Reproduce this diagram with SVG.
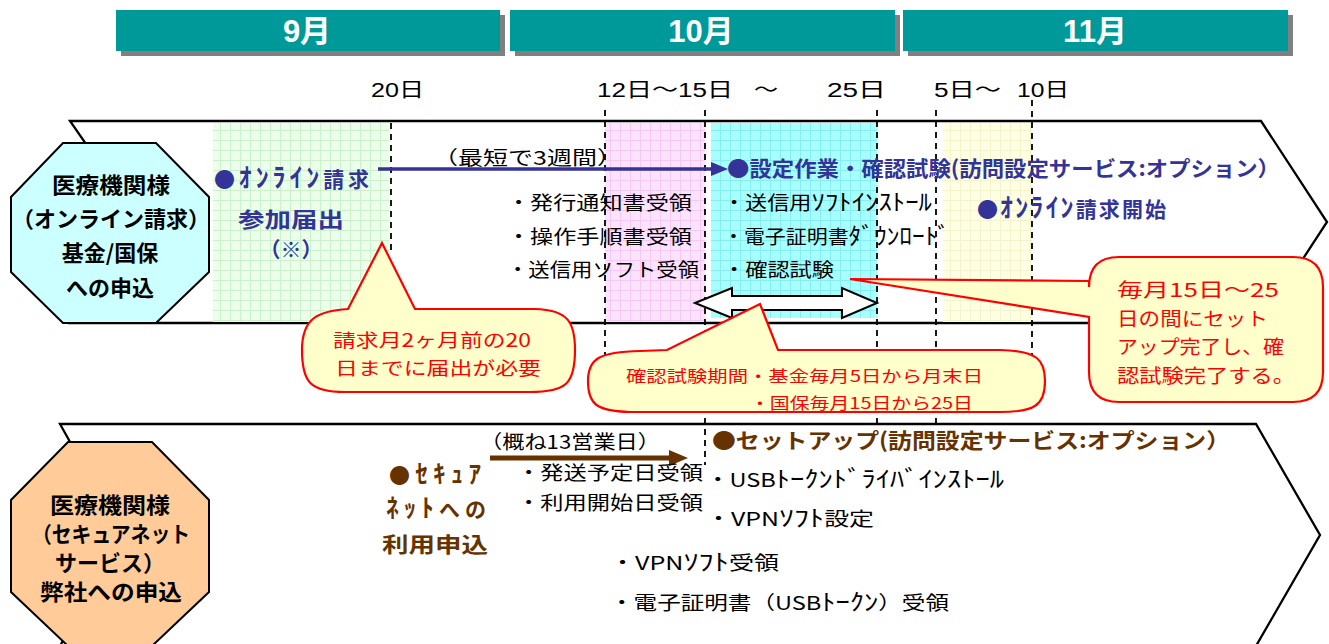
<svg xmlns="http://www.w3.org/2000/svg" width="1329" height="644" viewBox="0 0 1329 644">
<style>
text{font-family:'Noto Sans CJK JP','Liberation Sans',sans-serif;}
.hd{font-family:'Liberation Sans','Noto Sans CJK JP',sans-serif;font-size:31px;font-weight:bold;fill:#fff;text-anchor:middle;}
.dt{font-family:'Liberation Sans','Noto Sans CJK JP',sans-serif;font-size:20px;fill:#000;}
.blk{font-size:19px;fill:#000;}
.blue{font-size:21px;font-weight:bold;fill:#333399;}
.brown{font-size:21px;font-weight:bold;fill:#663300;}
.red{fill:#FF0000;}
.oct{font-size:22px;font-weight:bold;fill:#000;text-anchor:middle;}
.chev{fill:#fff;stroke:#000;stroke-width:2.3;}
.dash{stroke:#000;stroke-width:1.8;stroke-dasharray:6 5;fill:none;}
.call{fill:#FFFFCC;stroke:#FF0000;stroke-width:2.2;stroke-linejoin:miter;}
.k26{font-size:26px;}
.k25{font-size:25px;}
.k23{font-size:23px;}
</style>
<defs>
<pattern id="pGreen" width="10" height="10" patternUnits="userSpaceOnUse">
<rect width="10" height="10" fill="#EBFFEB"/><path d="M0 0.5H10M0.5 0V10" stroke="#CCF2CC" stroke-width="1"/>
</pattern>
<pattern id="pPink" width="10" height="10" patternUnits="userSpaceOnUse">
<rect width="10" height="10" fill="#FCE3FC"/><path d="M0 0.5H10M0.5 0V10" stroke="#F5C8F5" stroke-width="1"/>
</pattern>
<pattern id="pCyan" width="10" height="10" patternUnits="userSpaceOnUse">
<rect width="10" height="10" fill="#A8FFFF"/><path d="M0 0.5H10M0.5 0V10" stroke="#86EEEE" stroke-width="1"/>
</pattern>
<pattern id="pYellow" width="10" height="10" patternUnits="userSpaceOnUse">
<rect width="10" height="10" fill="#FFFFE3"/><path d="M0 0.5H10M0.5 0V10" stroke="#F4F4CC" stroke-width="1"/>
</pattern>
</defs>
<rect width="1329" height="644" fill="#fff"/>

<g id="months">
<rect x="121" y="15" width="384" height="41" fill="#808080"/>
<rect x="116" y="10" width="384" height="41" fill="#009999"/>
<text class="hd" x="307" y="42">9月</text>
<rect x="515" y="15" width="385" height="41" fill="#808080"/>
<rect x="510" y="10" width="385" height="41" fill="#009999"/>
<text class="hd" x="701" y="42">10月</text>
<rect x="908" y="15" width="385" height="41" fill="#808080"/>
<rect x="903" y="10" width="385" height="41" fill="#009999"/>
<text class="hd" x="1095" y="42">11月</text>
</g>

<g id="dates">
<text class="dt" x="371" y="97" textLength="53" lengthAdjust="spacingAndGlyphs">20日</text>
<text class="dt" x="597" y="97" textLength="136" lengthAdjust="spacingAndGlyphs">12日～15日</text>
<text class="dt" x="754" y="97" textLength="24" lengthAdjust="spacingAndGlyphs">～</text>
<text class="dt" x="827" y="97" textLength="59" lengthAdjust="spacingAndGlyphs">25日</text>
<text class="dt" x="934" y="97" textLength="67" lengthAdjust="spacingAndGlyphs">5日～</text>
<text class="dt" x="1017" y="97" textLength="52" lengthAdjust="spacingAndGlyphs">10日</text>
</g>

<g id="lane-online">
<path class="chev" d="M70,121 L1261,121 L1327,222 L1261,323 L70,323 L140,222 Z"/>
<rect x="213" y="123" width="176" height="199" fill="url(#pGreen)"/>
<rect x="605" y="123" width="100" height="199" fill="url(#pPink)"/>
<rect x="711" y="123" width="166" height="195" fill="url(#pCyan)"/>
<rect x="943" y="123" width="89" height="199" fill="url(#pYellow)"/>
</g>

<g id="lane-secure">
<path class="chev" d="M60,424 L1256,424 L1320,535 L1256,646 L60,646 L122,535 Z"/>
</g>

<g id="connectors">
<line class="dash" x1="391" y1="123" x2="391" y2="250"/>
<line class="dash" x1="605" y1="110" x2="605" y2="355"/>
<line class="dash" x1="705" y1="110" x2="705" y2="465"/>
<line class="dash" x1="877" y1="110" x2="877" y2="424"/>
<line class="dash" x1="936" y1="110" x2="936" y2="424"/>
<line class="dash" x1="1032" y1="100" x2="1032" y2="355"/>
<line x1="378" y1="169" x2="714" y2="169" stroke="#333399" stroke-width="3.5"/>
<polygon points="711,162 728,169 711,176" fill="#333399"/>
<line x1="490" y1="458" x2="672" y2="458" stroke="#663300" stroke-width="5"/>
<polygon points="669,450 688,458 669,466" fill="#663300"/>
<path d="M695,303 L732,288 L732,296 L842,296 L842,288 L877,303 L842,318 L842,310 L732,310 L732,318 Z" fill="#fff" stroke="#000" stroke-width="2"/>
</g>

<g id="node-online">
<polygon points="63,143 156,143 209,197 209,272 156,323 63,323 11,272 11,197" fill="#CCFFFF" stroke="#000" stroke-width="2"/>
<text class="oct" x="111" y="193" textLength="118" lengthAdjust="spacingAndGlyphs">医療機関様</text>
<text class="oct" x="111" y="227">（オンライン請求）</text>
<text class="oct" x="110" y="261">基金/国保</text>
<text class="oct" x="110" y="296">への申込</text>
</g>

<g id="node-secure">
<polygon points="68,442 152,442 209,500 209,592 152,646 68,646 11,592 11,500" fill="#FFCC99" stroke="#000" stroke-width="2"/>
<text class="oct" x="110" y="513" font-size="20" textLength="120" lengthAdjust="spacingAndGlyphs">医療機関様</text>
<text class="oct" x="111" y="542" font-size="20" textLength="158" lengthAdjust="spacingAndGlyphs">（セキュアネット</text>
<text class="oct" x="110" y="571" font-size="20" textLength="110" lengthAdjust="spacingAndGlyphs">サービス）</text>
<text class="oct" x="111" y="600" font-size="20" textLength="142" lengthAdjust="spacingAndGlyphs">弊社への申込</text>
</g>

<g id="node-apply">
<text class="blue" x="214" y="187" font-size="24" textLength="155">●<tspan class="k26">ｵﾝﾗｲﾝ</tspan>請求</text>
<text class="blue" x="238" y="227" font-size="24" textLength="106" lengthAdjust="spacingAndGlyphs">参加届出</text>
<text class="blue" x="291" y="257" font-size="23" text-anchor="middle">（※）</text>
</g>

<g id="node-receive">
<text class="blk" x="433" y="165" textLength="189" lengthAdjust="spacingAndGlyphs">（最短で3週間）</text>
<text class="blk" x="507" y="210" font-size="20" textLength="185" lengthAdjust="spacingAndGlyphs">・発行通知書受領</text>
<text class="blk" x="507" y="244" font-size="20" textLength="185" lengthAdjust="spacingAndGlyphs">・操作手順書受領</text>
<text class="blk" x="507" y="277" font-size="20" textLength="192" lengthAdjust="spacingAndGlyphs">・送信用ソフト受領</text>
</g>

<g id="node-setup">
<text class="blue" x="727" y="176" textLength="553" lengthAdjust="spacingAndGlyphs">●設定作業・確認試験(訪問設定サービス:オプション）</text>
<text class="blk" x="723" y="210" font-size="20" textLength="209" lengthAdjust="spacingAndGlyphs">・送信用<tspan class="k23">ｿﾌﾄｲﾝｽﾄｰﾙ</tspan></text>
<text class="blk" x="723" y="244" font-size="20" textLength="227" lengthAdjust="spacingAndGlyphs">・電子証明書<tspan class="k23">ﾀﾞｳﾝﾛｰﾄﾞ</tspan></text>
<text class="blk" x="723" y="277" font-size="20" textLength="111" lengthAdjust="spacingAndGlyphs">・確認試験</text>
</g>

<g id="node-start">
<text class="blue" x="977" y="217" font-size="22" textLength="189">●<tspan class="k26">ｵﾝﾗｲﾝ</tspan>請求開始</text>
</g>

<g id="node-secure-apply">
<text class="blk" x="480" y="449" font-size="18" textLength="180" lengthAdjust="spacingAndGlyphs">（概ね13営業日）</text>
<text class="brown" x="389" y="483" font-size="23" textLength="92">●<tspan class="k25">ｾｷｭｱ</tspan></text>
<text class="brown" x="386" y="517" font-size="23" textLength="100"><tspan class="k25">ﾈｯﾄ</tspan>への</text>
<text class="brown" x="382" y="552" font-size="24" textLength="106" lengthAdjust="spacingAndGlyphs">利用申込</text>
<text class="blk" x="517" y="480" font-size="20" textLength="186" lengthAdjust="spacingAndGlyphs">・発送予定日受領</text>
<text class="blk" x="517" y="510" font-size="20" textLength="186" lengthAdjust="spacingAndGlyphs">・利用開始日受領</text>
</g>

<g id="node-secure-setup">
<text class="brown" x="712" y="448" font-size="22" textLength="518" lengthAdjust="spacingAndGlyphs">●セットアップ(訪問設定サービス:オプション）</text>
<text class="blk" x="706" y="487" font-size="21" textLength="298" lengthAdjust="spacingAndGlyphs">・USB<tspan class="k23">ﾄｰｸﾝﾄﾞﾗｲﾊﾞｲﾝｽﾄｰﾙ</tspan></text>
<text class="blk" x="706" y="526" font-size="21" textLength="168" lengthAdjust="spacingAndGlyphs">・VPN<tspan class="k23">ｿﾌﾄ</tspan>設定</text>
<text class="blk" x="610" y="570" font-size="21" textLength="169" lengthAdjust="spacingAndGlyphs">・VPN<tspan class="k23">ｿﾌﾄ</tspan>受領</text>
<text class="blk" x="610" y="610" font-size="21" textLength="339" lengthAdjust="spacingAndGlyphs">・電子証明書（USB<tspan class="k23">ﾄｰｸﾝ</tspan>）受領</text>
</g>

<g id="callout-deadline">
<path class="call" d="M302,350 C302,318 318,311 348,309 L382,243 L415,309 L535,309 C568,310 575,322 575,350 C575,384 566,392 530,392 L345,392 C310,392 302,382 302,350 Z"/>
<text class="red" x="333" y="347" font-size="18" textLength="198" lengthAdjust="spacingAndGlyphs">請求月2ヶ月前の20</text>
<text class="red" x="335" y="375" font-size="18" textLength="206" lengthAdjust="spacingAndGlyphs">日までに届出が必要</text>
</g>

<g id="callout-test-period">
<path class="call" d="M588,381 C588,358 600,352 640,351 L667,350 L760,304 L778,350 L1000,350 C1038,351 1045,360 1045,381 C1045,405 1035,412 1000,412 L630,412 C596,411 588,404 588,381 Z"/>
<text class="red" x="626" y="382" font-size="16" textLength="357" lengthAdjust="spacingAndGlyphs">確認試験期間・基金毎月5日から月末日</text>
<text class="red" x="750" y="409" font-size="16" textLength="223" lengthAdjust="spacingAndGlyphs">・国保毎月15日から25日</text>
</g>

<g id="callout-setup">
<path class="call" d="M1119,257 L1293,257 Q1323,257 1323,287 L1323,372 Q1323,402 1293,402 L1119,402 Q1089,402 1089,372 L1089,317 L850,279 L1089,281 L1089,287 Q1089,257 1119,257 Z"/>
<text class="red" x="1117" y="297" font-size="19" textLength="162" lengthAdjust="spacingAndGlyphs">毎月15日～25</text>
<text class="red" x="1117" y="326" font-size="19" textLength="151" lengthAdjust="spacingAndGlyphs">日の間にセット</text>
<text class="red" x="1117" y="354" font-size="19" textLength="167" lengthAdjust="spacingAndGlyphs">アップ完了し、確</text>
<text class="red" x="1117" y="383" font-size="19" textLength="178" lengthAdjust="spacingAndGlyphs">認試験完了する。</text>
</g>
</svg>
